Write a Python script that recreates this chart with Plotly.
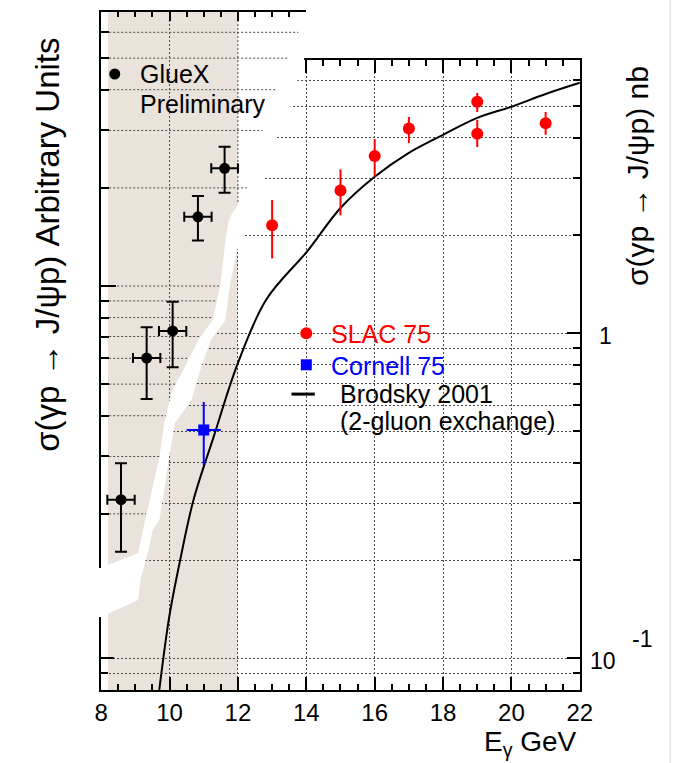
import numpy as np
import plotly.graph_objects as go

# ---------------- measurements ----------------
# SLAC 75 photoproduction cross sections (nb)
slac_e = [13, 15, 16, 17, 19, 19, 21]
slac_sigma = [2.15, 2.75, 3.51, 4.27, 5.16, 4.11, 4.43]
slac_err_hi = [0.42, 0.45, 0.45, 0.36, 0.33, 0.42, 0.37]
slac_err_lo = [0.45, 0.44, 0.48, 0.42, 0.36, 0.37, 0.35]

# Cornell 75 (nb)
cornell_e = [11.0]
cornell_e_err = [0.5]
cornell_sigma = [0.504]
cornell_err = [0.111]

# Brodsky 2001, two-gluon exchange curve (nb)
brodsky_e = [9.70, 9.99, 10.30, 10.70, 11.29, 11.98, 12.83, 14.05,
             15.0, 16.0, 17.0, 18.0, 19.0, 20.0, 21.0, 22.0]
brodsky_sigma = [0.080, 0.134, 0.198, 0.307, 0.480, 0.80, 1.27, 1.80,
                 2.43, 3.03, 3.59, 4.08, 4.60, 4.98, 5.45, 5.90]

# GlueX preliminary (arbitrary units)
gluex_e = [8.58, 9.33, 10.09, 10.83, 11.61]
gluex_e_err = [0.40, 0.40, 0.40, 0.40, 0.39]
gluex_sigma = [2.21, 6.01, 7.28, 16.3, 22.96]
gluex_err_hi = [0.65, 1.46, 1.67, 2.58, 3.79]
gluex_err_lo = [0.68, 1.51, 1.65, 2.51, 3.63]

# axis ticks
x_major = [8, 10, 12, 14, 16, 18, 20, 22]
nb_major = [0.1, 1]
nb_minor = [0.09, 0.2, 0.3, 0.4, 0.5, 0.6, 0.7, 0.8, 0.9, 2, 3, 4, 5, 6]
au_major = [10]
au_minor = [2, 3, 4, 5, 6, 7, 8, 9, 20, 30, 40, 50, 60]

# ---------------- geometry ----------------
W, H = 687, 763
FONT = "Liberation Sans, Arial, Helvetica, sans-serif"
X_L, X_R = 97, 590            # E = 8 ... 22 GeV
E_LO, E_HI = 8.0, 22.0
NB_TOP, FRAME_BOT = 60, 690   # nb frame
NB_ONE_PX, NB_DEC_PX = 333.3, 325.0
AU_TOP, AU_AXIS_END = 12, 568  # inset (arbitrary units) frame
AU_TEN_PX, AU_DEC_PX = 286.0, 326.0
AU_RIGHT = 308
COVER_LEFT = 85
SHADE_LO, SHADE_HI = 8.2, 12.0
BEIGE = "#e9e3db"
GRID = "#4a4a4a"
DOTS = "2px,2px"


def e_at(px):
    return E_LO + (px - X_L) * (E_HI - E_LO) / (X_R - X_L)


def nb_log_at(py):
    return (NB_ONE_PX - py) / NB_DEC_PX


def au_log_at(py):
    return 1 - (py - AU_TEN_PX) / AU_DEC_PX


def au_px(v):
    return AU_TEN_PX - AU_DEC_PX * (np.log10(v) - 1)


def fx(px):
    return px / W


def fy(py):
    return 1 - py / H


# outline of the pasted inset: right edge of its white backing
cover_edge = [(310, 12), (306, 60), (299, 81), (292, 107), (277, 138), (264, 178),
              (245, 236), (237, 250), (230, 283), (225, 320), (210, 340), (198, 373),
              (190, 400), (173, 423), (167, 457), (162, 490), (157, 520), (150, 530),
              (145, 553), (138, 577), (135, 600), (97, 617)]
# where the inset's own shading and grid stop
tear_edge = [(301, 12), (300, 33), (290, 60), (278, 90), (263, 131), (247, 188),
             (240, 200), (237, 205), (232, 213), (228, 222), (225, 240), (220, 283),
             (212, 320), (197, 340), (180, 373), (170, 390), (162, 423), (157, 457),
             (149, 490), (143, 515), (140, 530), (135, 553), (105, 565), (97, 568)]

fig = go.Figure()

# ---------------- nb panel ----------------
fig.add_trace(go.Scatter(
    x=brodsky_e, y=brodsky_sigma, mode="lines", line=dict(color="black", width=2, shape="spline"),
    xaxis="x", yaxis="y", hoverinfo="skip", showlegend=False))
fig.add_trace(go.Scatter(
    x=cornell_e, y=cornell_sigma, mode="markers",
    marker=dict(symbol="square", size=11, color="#0000ff"),
    error_y=dict(type="data", array=cornell_err, color="#0000ff", thickness=2, width=0),
    error_x=dict(type="data", array=cornell_e_err, color="#0000ff", thickness=2, width=0),
    xaxis="x", yaxis="y", showlegend=False))
fig.add_trace(go.Scatter(
    x=slac_e, y=slac_sigma, mode="markers",
    marker=dict(symbol="circle", size=12, color="#ff0000"),
    error_y=dict(type="data", symmetric=False, array=slac_err_hi, arrayminus=slac_err_lo,
                 color="#ff0000", thickness=2, width=0),
    xaxis="x", yaxis="y", showlegend=False))
# legend swatches
fig.add_trace(go.Scatter(x=[14], y=[1.0], mode="markers",
                         marker=dict(symbol="circle", size=12, color="#ff0000"),
                         xaxis="x", yaxis="y", hoverinfo="skip", showlegend=False))
fig.add_trace(go.Scatter(x=[14], y=[0.8], mode="markers",
                         marker=dict(symbol="square", size=11, color="#0000ff"),
                         xaxis="x", yaxis="y", hoverinfo="skip", showlegend=False))
fig.add_trace(go.Scatter(x=[e_at(293), e_at(317)], y=[0.65, 0.65], mode="lines",
                         line=dict(color="black", width=3),
                         xaxis="x", yaxis="y", hoverinfo="skip", showlegend=False))

# ---------------- inset backing, shading and grid ----------------
cov_x = [e_at(COVER_LEFT)] + [e_at(p[0]) for p in cover_edge] + [e_at(COVER_LEFT)]
cov_y = [10 ** au_log_at(AU_TOP)] + [10 ** au_log_at(p[1]) for p in cover_edge] + [10 ** au_log_at(617)]
fig.add_trace(go.Scatter(x=cov_x, y=cov_y, fill="toself", fillcolor="white", mode="lines",
                         line=dict(width=0, color="white"), xaxis="x2", yaxis="y2",
                         hoverinfo="skip", showlegend=False))

shade_pts = [p for p in tear_edge if 205 < p[1] <= 553]
sh_x = [SHADE_LO, SHADE_HI, SHADE_HI] + [e_at(p[0]) for p in shade_pts] + [SHADE_LO]
sh_y = ([10 ** au_log_at(AU_TOP), 10 ** au_log_at(AU_TOP), 10 ** au_log_at(205)]
        + [10 ** au_log_at(p[1]) for p in shade_pts] + [10 ** au_log_at(565)])
fig.add_trace(go.Scatter(x=sh_x, y=sh_y, fill="toself", fillcolor=BEIGE, mode="lines",
                         line=dict(width=0, color=BEIGE), xaxis="x2", yaxis="y2",
                         hoverinfo="skip", showlegend=False))

tx = np.array([p[0] for p in tear_edge], dtype=float)
ty = np.array([p[1] for p in tear_edge], dtype=float)
gx, gy = [], []
for v in au_major + au_minor:
    end_px = np.interp(au_px(v), ty, tx)
    gx += [E_LO, e_at(end_px), None]
    gy += [v, v, None]
for e in [10, 12]:
    px = X_L + (e - E_LO) * (X_R - X_L) / (E_HI - E_LO)
    end_py = np.interp(px, tx[::-1], ty[::-1])
    gx += [e, e, None]
    gy += [10 ** au_log_at(AU_TOP), 10 ** au_log_at(end_py), None]
fig.add_trace(go.Scatter(x=gx, y=gy, mode="lines", line=dict(color=GRID, width=1, dash=DOTS),
                         xaxis="x2", yaxis="y2", hoverinfo="skip", showlegend=False))

# ---------------- GlueX inset ----------------
fig.add_trace(go.Scatter(
    x=gluex_e, y=gluex_sigma, mode="markers",
    marker=dict(symbol="circle", size=11, color="black"),
    error_y=dict(type="data", symmetric=False, array=gluex_err_hi, arrayminus=gluex_err_lo,
                 color="black", thickness=2, width=6),
    error_x=dict(type="data", array=gluex_e_err, color="black", thickness=2, width=5),
    xaxis="x3", yaxis="y3", showlegend=False))
fig.add_trace(go.Scatter(x=[e_at(111)], y=[10 ** au_log_at(74)], mode="markers",
                         marker=dict(symbol="circle", size=11, color="black"),
                         xaxis="x3", yaxis="y3", hoverinfo="skip", showlegend=False))

# ---------------- axes ----------------
tick_common = dict(ticks="inside", tickcolor="black", tickwidth=1.5)
fig.update_layout(
    width=W, height=H, autosize=False,
    margin=dict(l=0, r=0, t=0, b=0),
    paper_bgcolor="white", plot_bgcolor="rgba(0,0,0,0)",
    font=dict(family=FONT, color="black"),
    xaxis=dict(domain=[fx(X_L), fx(X_R)], range=[E_LO, E_HI], anchor="y",
               tickmode="array", tickvals=x_major, ticklen=13, **tick_common,
               mirror="ticks", showline=True, linewidth=2, linecolor="black",
               showgrid=True, gridcolor=GRID, gridwidth=1, griddash=DOTS, zeroline=False,
               tickfont=dict(size=24, family=FONT, color="black"),
               minor=dict(dtick=0.5, tick0=0, ticklen=6, ticks="inside", tickcolor="black",
                          tickwidth=1.5, showgrid=False)),
    yaxis=dict(domain=[fy(FRAME_BOT), fy(NB_TOP)], type="log",
               range=[nb_log_at(FRAME_BOT), nb_log_at(NB_TOP)], anchor="x", side="right",
               tickmode="array", tickvals=nb_major, ticklen=13, **tick_common,
               mirror="ticks", showline=True, linewidth=2, linecolor="black",
               showticklabels=False, zeroline=False,
               showgrid=True, gridcolor=GRID, gridwidth=1, griddash=DOTS,
               minor=dict(tickmode="array", tickvals=nb_minor, ticklen=7, ticks="inside",
                          tickcolor="black", tickwidth=1.5, showgrid=True,
                          gridcolor=GRID, gridwidth=1, griddash=DOTS)),
    xaxis2=dict(domain=[fx(COVER_LEFT), fx(X_R)], range=[e_at(COVER_LEFT), E_HI],
                anchor="y2", visible=False, fixedrange=True),
    yaxis2=dict(domain=[fy(FRAME_BOT), fy(AU_TOP)], type="log",
                range=[au_log_at(FRAME_BOT), au_log_at(AU_TOP)], anchor="x2",
                visible=False, fixedrange=True),
    xaxis3=dict(domain=[fx(X_L), fx(AU_RIGHT)], range=[E_LO, e_at(AU_RIGHT)], anchor="y3",
                side="top", showline=True, linewidth=2, linecolor="black",
                tickmode="array", tickvals=[10, 12], ticklen=9, **tick_common,
                showticklabels=False, showgrid=False, zeroline=False,
                minor=dict(dtick=0.5, tick0=0, ticklen=5, ticks="inside", tickcolor="black",
                           tickwidth=1.5, showgrid=False)),
    yaxis3=dict(domain=[fy(AU_AXIS_END), fy(AU_TOP)], type="log",
                range=[au_log_at(AU_AXIS_END), au_log_at(AU_TOP)], anchor="x3", side="left",
                showline=True, linewidth=2, linecolor="black",
                tickmode="array", tickvals=au_major, ticklen=15, **tick_common,
                showticklabels=False, showgrid=False, zeroline=False,
                minor=dict(tickmode="array", tickvals=au_minor, ticklen=8, ticks="inside",
                           tickcolor="black", tickwidth=1.5, showgrid=False)),
    shapes=[
        dict(type="rect", xref="x", yref="y domain", x0=SHADE_LO, x1=SHADE_HI, y0=0, y1=1,
             fillcolor=BEIGE, line=dict(width=0), layer="below"),
        dict(type="line", xref="paper", yref="paper", x0=fx(683), x1=fx(683), y0=0, y1=1,
             line=dict(color="#d4d4d4", width=1), layer="above"),
    ],
)


def label(text, px, py, size, color="black", xanchor="left", yanchor="middle", angle=0):
    fig.add_annotation(text=text, x=fx(px), y=fy(py), xref="paper", yref="paper",
                       xanchor=xanchor, yanchor=yanchor, showarrow=False, textangle=angle,
                       font=dict(size=size, color=color, family=FONT))


label("SLAC 75", 332, 334, 25, "#ff0000")
label("Cornell 75", 332, 366, 25, "#0000ff")
label("Brodsky 2001", 341, 394, 25)
label("(2-gluon exchange)", 341, 421, 25)
label("GlueX", 135, 74, 25)
label("Preliminary", 135, 104, 25)

label("1", 616, 336, 23, xanchor="center")
label("10", 614, 661, 23, xanchor="center")
label("-1", 654, 639, 23, xanchor="center")

label("E<sub>γ</sub> GeV", 589, 743, 28, xanchor="right")
label("σ(γp → J/ψp) Arbitrary Units", 41, 245, 33, xanchor="center", angle=-90)
label("σ(γp → J/ψp) nb", 650, 176, 30, xanchor="center", angle=-90)

fig.write_html("out.html")
